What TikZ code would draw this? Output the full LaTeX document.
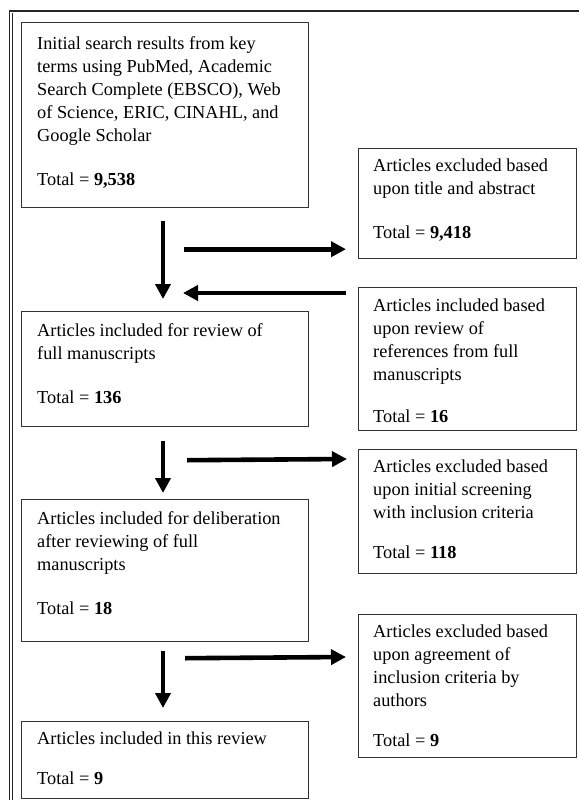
\documentclass[tikz,border=0pt]{standalone}
\usepackage{fontspec}
\setmainfont{Liberation Serif}
\usetikzlibrary{arrows.meta,calc}
\begin{document}
\begin{tikzpicture}[x=1pt,y=-1pt,
  box/.style={draw=black!80, line width=1.2pt, anchor=north west, inner sep=0pt},
  txt/.style={anchor=north west, inner sep=0pt, align=left, font=\fontsize{18.3}{23}\selectfont},
  arr/.style={line width=4.6pt, -{Triangle[length=15pt,width=15pt]}},
  frame/.style={line width=1.3pt, draw=black!85}]
\useasboundingbox (0,0) rectangle (579,800);
% outer frame
\coordinate (fa) at (9.5,800);
\coordinate (fb) at (9.5,11);
\coordinate (fc) at (579,11);
\coordinate (fd) at (12.5,13);
\coordinate (fe) at (12.5,800);
\draw[frame] (fa) -- (fb) -- (fc);
\draw[frame, line width=1pt] (fd) -- (fe);
% boxes
\node[box, minimum width=287pt, minimum height=185pt] (b1) at (21,22) {};
\node[box, minimum width=218pt, minimum height=110pt] (b2) at (358,148) {};
\node[box, minimum width=287pt, minimum height=115pt] (b3) at (21,311) {};
\node[box, minimum width=218pt, minimum height=143pt] (b4) at (358,287) {};
\node[box, minimum width=287pt, minimum height=142pt] (b5) at (21,499) {};
\node[box, minimum width=218pt, minimum height=124pt] (b6) at (358,449) {};
\node[box, minimum width=287pt, minimum height=77pt] (b7) at (21,721) {};
\node[box, minimum width=218pt, minimum height=143pt] (b8) at (358,614) {};
% texts
\node[txt] (t1) at ($(b1.north west)+(16,14)$) {Initial search results from key\\terms using PubMed, Academic\\Search Complete (EBSCO), Web\\of Science, ERIC, CINAHL, and\\Google Scholar\\[21pt]Total = \textbf{9,538}};
\node[txt] (t2) at ($(b2.north west)+(15,11)$) {Articles excluded based\\upon title and abstract\\[21pt]Total = \textbf{9,418}};
\node[txt] (t3) at ($(b3.north west)+(16,12)$) {Articles included for review of\\full manuscripts\\[21pt]Total = \textbf{136}};
\node[txt] (t4) at ($(b4.north west)+(15,12)$) {Articles included based\\upon review of\\references from full\\manuscripts\\[19pt]Total = \textbf{16}};
\node[txt] (t5) at ($(b5.north west)+(16,12)$) {Articles included for deliberation\\after reviewing of full\\manuscripts\\[21pt]Total = \textbf{18}};
\node[txt] (t6) at ($(b6.north west)+(15,11)$) {Articles excluded based\\upon initial screening\\with inclusion criteria\\[17pt]Total = \textbf{118}};
\node[txt] (t7) at ($(b7.north west)+(16,11)$) {Articles included in this review\\[17pt]Total = \textbf{9}};
\node[txt] (t8) at ($(b8.north west)+(15,11)$) {Articles excluded based\\upon agreement of\\inclusion criteria by\\authors\\[17pt]Total = \textbf{9}};
% arrows
\draw[arr] ($(b1.south west)+(142,13)$) -- ($(b3.north west)+(142,-12)$);
\draw[arr] ($(b1.south east)+(-125,41)$) -- ($(b2.south west)+(-12,-10)$);
\draw[arr] ($(b4.north west)+(-12,6)$) -- ($(b3.north west)+(162,-18)$);
\draw[arr] ($(b3.south west)+(142,14)$) -- ($(b5.north west)+(142,-6)$);
\draw[arr] ($(b3.south east)+(-122,33)$) -- ($(b6.north west)+(-11,10)$);
\draw[arr] ($(b5.south west)+(142,9)$) -- ($(b7.north west)+(142,-13)$);
\draw[arr] ($(b5.south east)+(-124,16)$) -- ($(b8.north west)+(-12,43)$);
\end{tikzpicture}
\end{document}
